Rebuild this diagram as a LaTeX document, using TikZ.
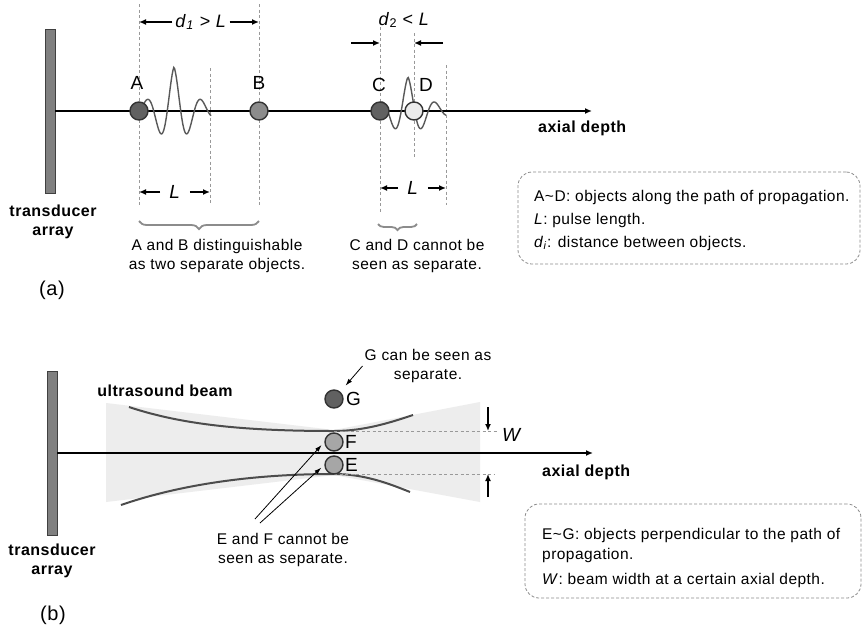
\documentclass[tikz,border=0pt]{standalone}
\usepackage{fontspec}
\setmainfont{Liberation Sans}[LetterSpace=3]
\usepackage{tikz}
\usetikzlibrary{arrows.meta,calc,decorations.pathreplacing}

\begin{document}
\begin{tikzpicture}[x=1pt,y=-1pt,>={Latex[length=7pt,width=6pt]},
  bar/.style={draw=black!75,fill=black!50,line width=0.8pt,minimum width=10pt,minimum height=164pt,inner sep=0pt},
  axis/.style={line width=1.5pt,->},
  obj/.style={circle,draw=black!80,line width=1.4pt,minimum size=18pt,inner sep=0pt},
  lbl/.style={font=\fontsize{19}{22}\selectfont,inner sep=1pt},
  dimlbl/.style={font=\fontsize{18}{22}\selectfont,inner sep=3pt},
  txt/.style={font=\fontsize{15.5}{19}\selectfont,align=center,inner sep=2pt},
  bld/.style={font=\fontsize{16}{19.5}\selectfont\bfseries,align=center,inner sep=2pt},
  guide/.style={dash pattern=on 3pt off 2.5pt,black!40,line width=0.7pt},
  wave/.style={black!65,line width=1.4pt},
  dim/.style={line width=1.6pt,->},
  curly/.style={decorate,decoration={brace,amplitude=8pt},black!45,line width=1.8pt},
  keybox/.style={draw=black!45,dash pattern=on 3pt off 2pt,rounded corners=14pt,line width=0.8pt},
  ptr/.style={line width=0.8pt,-{Latex[length=7pt,width=4.5pt]}},
  beam/.style={black!70,line width=2pt}]

  \fill[white] (0,0) rectangle (863,633);
  \useasboundingbox (0,0) rectangle (863,633);

  \draw[guide] (139,4) -- (139,205);
  \draw[guide] (259,4) -- (259,205);
  \draw[guide] (210,68) -- (210,205);
  \draw[guide] (380,27) -- (380,213);
  \draw[guide] (414,33) -- (414,157);
  \draw[guide] (446,65) -- (446,205);

  \node[bar] (arrA) at (50,111) {};
  \coordinate (tipA) at (592,111);
  \draw[axis] (arrA.east) -- (tipA);
  \node[bld,anchor=west] (depthA) at (536,128) {axial depth};
  \node[bld] (trA) at (53,222) {transducer\\array};

  \draw[wave] plot[domain=139:211,samples=90] (\x,{111-44*exp(-abs(\x-174)/20)*cos(13.333*(\x-174))});
  \draw[wave] plot[domain=373:446,samples=90] (\x,{111-34*exp(-abs(\x-408)/20)*cos(13.333*(\x-408))});

  \node[obj,fill=black!62] (A) at (139,111) {};
  \node[obj,fill=black!45] (B) at (259,111) {};
  \node[obj,fill=black!62] (C) at (380,111) {};
  \node[obj,fill=black!8] (D) at (414,111) {};
  \node[lbl] (Atxt) at (137,83) {A};
  \node[lbl] (Btxt) at (259,83) {B};
  \node[lbl] (Ctxt) at (379,85) {C};
  \node[lbl] (Dtxt) at (426,85) {D};

  \node[dimlbl] (d1) at (201,22) {\textit{d}\textsubscript{\textit{1}} > \textit{L}};
  \draw[dim] (d1.west) -- (d1.west -| A);
  \draw[dim] (d1.east) -- (d1.east -| B);

  \node[dimlbl] (d2) at (404,20) {\textit{d}\textsubscript{2} < \textit{L}};
  \coordinate (d2y) at (0,43);
  \draw[dim] ($(C |- d2y)+(-29,0)$) -- (C |- d2y);
  \draw[dim] ($(D |- d2y)+(29,0)$) -- (D |- d2y);

  \coordinate (endA) at (210,111);
  \coordinate (endC) at (446,111);
  \node[lbl,inner xsep=9pt] (L1) at (175,192) {\textit{L}};
  \draw[dim] (L1.west) -- (L1.west -| A);
  \draw[dim] (L1.east) -- (L1.east -| endA);
  \node[lbl,inner xsep=9pt] (L2) at (413,188) {\textit{L}};
  \draw[dim] (L2.west) -- (L2.west -| C);
  \draw[dim] (L2.east) -- (L2.east -| endC);

  \draw[curly] (259,221) -- (139,221);
  \draw[curly,decoration={brace,amplitude=6pt}] (417,224) -- (378,224);
  \node[txt] (ABnote) at (217,256) {A and B distinguishable\\as two separate objects.};
  \node[txt] (CDnote) at (417,256) {C and D cannot be\\seen as separate.};

  \node[keybox,minimum width=342pt,minimum height=92pt] (keyA) at (689,218) {};
  \node[txt,anchor=west] (ka1) at (532,197) {A\textasciitilde D: objects along the path of propagation.};
  \node[txt,anchor=west] (ka2) at (532,220) {\textit{L}: pulse length.};
  \node[txt,anchor=west] (ka3) at (532,243) {\textit{d}\textsubscript{\textit{i}}: distance between objects.};
  \node[font=\fontsize{20}{24}\selectfont] (pa) at (52,290) {(a)};

  \fill[black!7] (106,403) -- (334,430) -- (480,402) -- (480,502) -- (334,475) -- (106,502) -- cycle;
  \node[bar] (arrB) at (52,453) {};
  \coordinate (tipB) at (593,453);
  \draw[axis] (arrB.east) -- (tipB);
  \node[bld,anchor=west] (depthB) at (540,472) {axial depth};
  \node[bld] (trB) at (52,561) {transducer\\array};
  \node[bld] (beamtxt) at (165,391) {ultrasound beam};

  \draw[beam] (129,407) .. controls (180,424) and (240,431) .. (334,431) .. controls (365,431) and (392,422) .. (413,415);
  \draw[beam] (121,505) .. controls (170,488) and (240,474) .. (334,474) .. controls (365,474) and (390,484) .. (410,492);

  \draw[guide] (334,431) -- (497,431);
  \draw[guide] (334,474) -- (495,474);
  \coordinate (wt) at (488,431);
  \coordinate (wb) at (488,474);
  \draw[dim] ($(wt)+(0,-24)$) -- (wt);
  \draw[dim] ($(wb)+(0,23)$) -- (wb);
  \node[lbl] (Wtxt) at (512,435) {\textit{W}};

  \node[obj,fill=black!62] (G) at (334,399) {};
  \node[obj,fill=black!35] (F) at (334,442) {};
  \node[obj,fill=black!35] (E) at (334,465) {};
  \node[lbl,anchor=west] (Gtxt) at (345,399) {G};
  \node[lbl,anchor=west] (Ftxt) at (344,442) {F};
  \node[lbl,anchor=west] (Etxt) at (344,465) {E};

  \node[txt] (Gnote) at (428,366) {G can be seen as\\separate.};
  \draw[ptr,shorten >=8pt] (Gnote.west) -- (G);
  \node[txt] (EFnote) at (283,550) {E and F cannot be\\seen as separate.};
  \coordinate (efF) at (255,519);
  \coordinate (efE) at (260,523);
  \draw[ptr,shorten >=4pt] (efF) -- (F.west);
  \draw[ptr,shorten >=4pt] (efE) -- (E.west);

  \node[keybox,minimum width=336pt,minimum height=94pt] (keyB) at (693,551) {};
  \node[txt,anchor=west] (kb1) at (540,535) {E\textasciitilde G: objects perpendicular to the path of};
  \node[txt,anchor=west] (kb2) at (540,555) {propagation.};
  \node[txt,anchor=west] (kb3) at (540,580) {\textit{W}: beam width at a certain axial depth.};
  \node[font=\fontsize{20}{24}\selectfont] (pb) at (53,615) {(b)};
\end{tikzpicture}
\end{document}
